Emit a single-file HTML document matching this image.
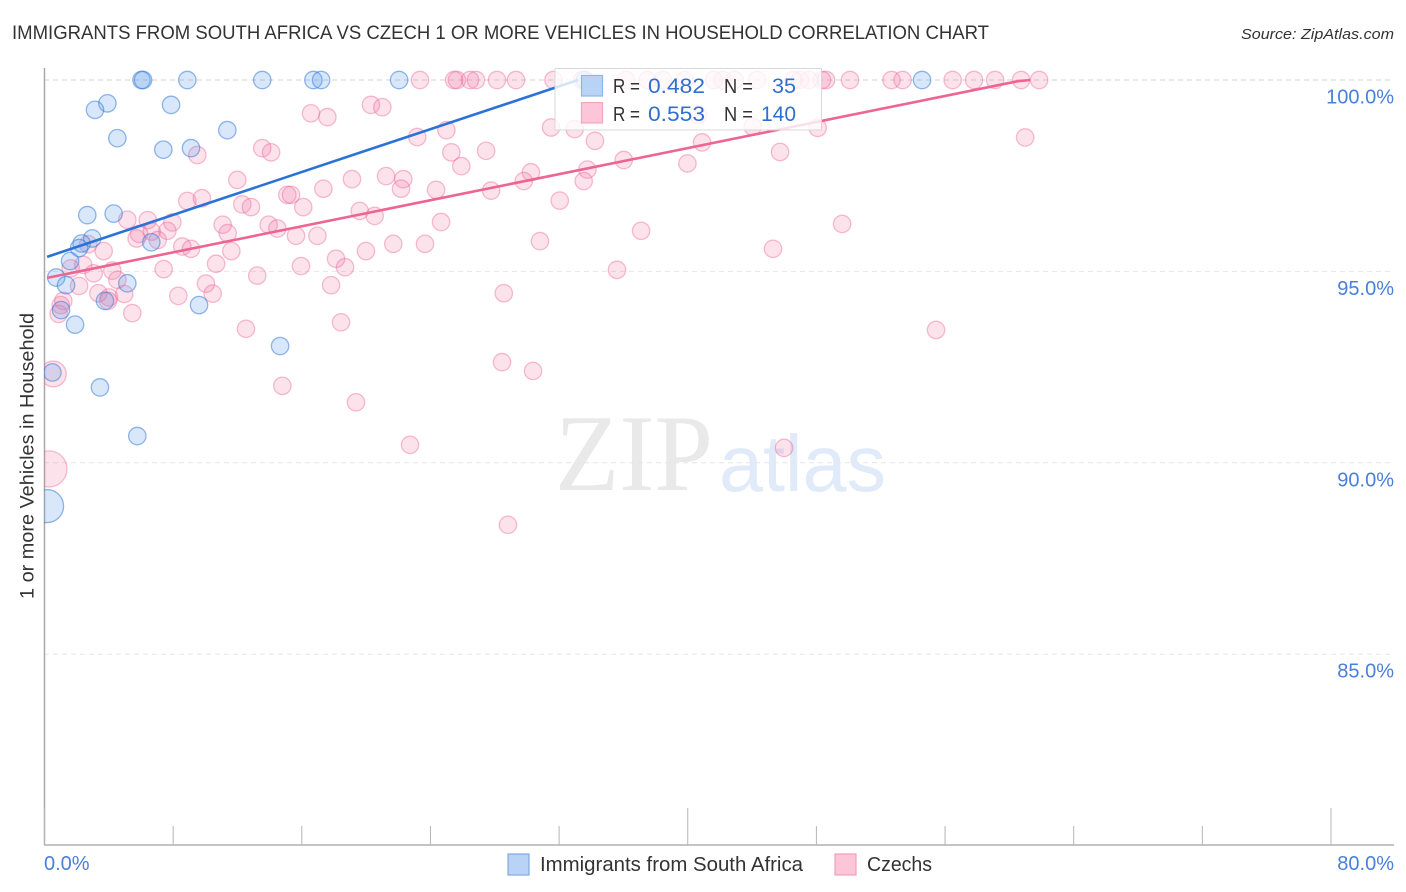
<!DOCTYPE html>
<html lang="en">
<head>
<meta charset="utf-8">
<title>Immigrants from South Africa vs Czech 1 or more Vehicles in Household Correlation Chart</title>
<style>
html,body{margin:0;padding:0;background:#fff;}
svg{display:block;font-family:"Liberation Sans",sans-serif;}
</style>
</head>
<body>
<svg id="chart" width="1406" height="892" viewBox="0 0 1406 892" xmlns="http://www.w3.org/2000/svg">
  <defs><clipPath id="plot-clip"><rect x="44" y="60" width="1350" height="785"/></clipPath></defs>
  <rect width="1406" height="892" fill="#fff"/>
  <text x="12" y="39" font-size="19" fill="#333" textLength="977" lengthAdjust="spacingAndGlyphs">IMMIGRANTS FROM SOUTH AFRICA VS CZECH 1 OR MORE VEHICLES IN HOUSEHOLD CORRELATION CHART</text>
  <text x="1241" y="39" font-size="15" font-style="italic" fill="#333" textLength="153" lengthAdjust="spacingAndGlyphs">Source: ZipAtlas.com</text>
  <text x="555" y="490" font-family="'Liberation Serif',serif" font-size="109" fill="#e9e9e9" textLength="158" lengthAdjust="spacingAndGlyphs">ZIP</text>
  <text x="719" y="491" font-size="80" fill="#e0eaf9" textLength="167" lengthAdjust="spacingAndGlyphs">atlas</text>
  <g id="grid"></g>
  <g id="axes"></g>
  <g id="points" clip-path="url(#plot-clip)"></g>
  <g id="trends"></g>
  <g id="y-labels"></g>
  <g id="x-labels"></g>
  <text transform="translate(33.5,599) rotate(-90)" x="0" y="0" font-size="19" fill="#333" textLength="286" lengthAdjust="spacingAndGlyphs">1 or more Vehicles in Household</text>

  <g>
    <rect x="555" y="68.5" width="266.5" height="61.5" fill="#fff" fill-opacity="0.8" stroke="#d8d8d8" stroke-width="1"/>
    <rect x="581.5" y="75.5" width="21" height="20.5" fill="#b9d3f6" stroke="#8fb5e8" stroke-width="1.2"/>
    <rect x="581.5" y="102.5" width="21" height="20.5" fill="#fcc5d8" stroke="#f5a5c0" stroke-width="1.2"/>
    <text x="613" y="93" font-size="20.5" fill="#333" textLength="27" lengthAdjust="spacingAndGlyphs">R =</text>
    <text x="648" y="93" font-size="21" fill="#2f6fd0" textLength="57" lengthAdjust="spacingAndGlyphs">0.482</text>
    <text x="724" y="93" font-size="20.5" fill="#333" textLength="29" lengthAdjust="spacingAndGlyphs">N =</text>
    <text x="772" y="93" font-size="21" fill="#2f6fd0" textLength="24" lengthAdjust="spacingAndGlyphs">35</text>
    <text x="613" y="121" font-size="20.5" fill="#333" textLength="27" lengthAdjust="spacingAndGlyphs">R =</text>
    <text x="648" y="121" font-size="21" fill="#2f6fd0" textLength="57" lengthAdjust="spacingAndGlyphs">0.553</text>
    <text x="724" y="121" font-size="20.5" fill="#333" textLength="29" lengthAdjust="spacingAndGlyphs">N =</text>
    <text x="761" y="121" font-size="21" fill="#2f6fd0" textLength="35" lengthAdjust="spacingAndGlyphs">140</text>
  </g>

  <g>
    <rect x="508" y="854" width="21" height="21" fill="#b9d3f6" stroke="#7fa9e0" stroke-width="1.2"/>
    <text x="540" y="871" font-size="20" fill="#333" textLength="263" lengthAdjust="spacingAndGlyphs">Immigrants from South Africa</text>
    <rect x="835" y="854" width="21" height="21" fill="#fcc5d8" stroke="#f0a0bc" stroke-width="1.2"/>
    <text x="867" y="871" font-size="20" fill="#333" textLength="65" lengthAdjust="spacingAndGlyphs">Czechs</text>
  </g>
</svg>
<script>
// ---- tick values and labels ----
var xTickValues = [0, 8, 16, 24, 32, 40, 48, 56, 64, 72, 80];
var xMajorTicks = [0, 40, 80];
var xTickLabels = ["0.0%", "80.0%"];
var yGridValues = [100, 95, 90, 85];
var yTickLabels = ["100.0%", "95.0%", "90.0%", "85.0%"];

// ---- Immigrants from South Africa (x %, y %) ----
var blueX = [6.03,6.13,8.88,13.54,16.72,17.20,22.05,54.57,33.61,3.91,3.14,7.87,11.37,4.53,7.39,9.11,2.66,4.30,2.97,2.31,2.15,1.59,6.64,0.73,1.34,5.15,3.76,9.61,1.03,1.90,14.65,0.49,3.45,5.77,0.16];
var blueY = [100,100,100,100,100,100,100,100,100,99.39,99.22,99.35,98.69,98.48,98.18,98.22,96.47,96.51,95.86,95.73,95.61,95.27,95.76,94.84,94.64,94.69,94.23,94.12,93.99,93.61,93.05,92.36,91.97,90.70,88.87];
var blueWeight = [1,1,1,1,1,1,1,1,1,1,1,1,1,1,1,1,1,1,1,1,1,1,1,1,1,1,1,1,1,1,1,1,1,1,3.6];

// ---- Czechs (x %, y %) ----
var pinkX = [23.35,25.47,25.65,26.46,26.83,28.14,29.32,31.65,33.43,36.16,37.50,38.46,39.83,41.63,42.17,42.91,44.31,46.58,46.98,47.54,48.35,48.60,50.09,52.67,53.36,56.47,57.80,59.11,60.73,61.85,
16.57,17.59,9.50,13.54,14.09,11.99,19.12,17.34,15.10,15.33,16.09,12.30,12.84,8.88,9.79,5.15,6.42,7.95,11.08,11.39,13.94,14.48,15.64,16.97,7.64,6.67,5.73,7.04,2.72,3.68,8.57,9.11,11.62,10.67,18.13,18.69,15.95,13.23,7.41,1.63,2.41,4.22,3.06,4.53,2.15,10.04,10.46,8.32,17.82,3.35,4.96,4.01,1.17,3.95,5.46,0.88,1.01,12.53,18.44,14.79,19.37,20.30,21.01,23.18,24.99,25.30,25.92,27.46,31.50,32.97,34.23,40.89,36.02,33.76,33.53,30.25,29.80,27.77,32.04,39.98,24.35,22.31,22.17,21.24,19.60,20.53,24.66,19.99,21.69,23.66,30.81,37.10,35.60,28.56,28.45,30.38,22.73,28.82,45.99,55.44,49.60,45.30,60.98,45.74,48.08,44.04,40.64,5.88,0.55,0.28];
var pinkY = [100,100,100,100,100,100,100,100,100,100,100,100,100,100,100,100,100,100,100,100,100,100,100,100,100,100,100,100,100,100,
99.13,99.03,98.04,98.22,98.11,97.39,97.41,97.16,97.00,97.00,96.68,96.75,96.68,96.84,96.91,96.35,96.34,96.28,96.22,96.00,96.22,96.12,95.93,95.93,96.06,96.04,95.86,95.82,95.71,95.53,95.65,95.59,95.53,95.20,95.33,95.11,95.14,94.89,95.06,95.08,95.17,95.02,94.95,94.78,94.62,94.68,94.42,94.36,94.64,94.43,94.41,94.32,94.23,94.23,93.91,93.89,94.12,93.50,93.67,92.01,91.58,99.35,99.29,98.51,98.69,98.11,97.75,98.15,98.76,98.72,98.41,98.37,97.91,97.66,97.36,97.59,97.36,97.11,96.85,97.82,97.13,97.41,97.16,97.49,96.58,96.45,96.29,95.53,95.72,95.72,95.79,96.06,95.04,94.43,92.63,92.40,90.47,88.38,90.39,93.47,96.24,95.59,98.50,98.12,98.75,98.78,99.09,95.98,92.32,89.84];
var pinkLargeIndex = [138, 139];
var pinkLargeWeight = [2.2, 4.3];

// ---- trend lines ----
var blueTrendX = [0.16, 33.18];
var blueTrendY = [95.38, 100];
var pinkTrendX = [0.16, 60.54, 61.3];
var pinkTrendY = [94.83, 99.97, 100];

var SVGNS = 'http://www.w3.org/2000/svg';
function xScale(v) { return 44.5 + (v / 80) * 1286.5; }
function yScale(v) { return 80 + (100 - v) * 38.28; }
function mk(tag, attrs, parent) {
  var el = document.createElementNS(SVGNS, tag);
  for (var k in attrs) el.setAttribute(k, attrs[k]);
  parent.appendChild(el);
  return el;
}

var gridG = document.getElementById('grid');
yGridValues.forEach(function (v, i) {
  var l = mk('line', {x1: 44, x2: 1394, y1: yScale(v), y2: yScale(v), stroke: i === 0 ? '#d2d2d2' : '#e6e6e6', 'stroke-width': 1, 'stroke-dasharray': '5 4'}, gridG);
  
  
});

var axesG = document.getElementById('axes');
var yAxisLine = mk('line', {x1: 44.5, x2: 44.5, y1: 68, y2: 845, stroke: '#a8a8a8', 'stroke-width': 1.5}, axesG);


var xAxisLine = mk('line', {x1: 44, x2: 1394, y1: 845, y2: 845, stroke: '#b0b0b0', 'stroke-width': 1.5}, axesG);


xTickValues.forEach(function (v) {
  var major = xMajorTicks.indexOf(v) >= 0;
  var t = mk('line', {x1: xScale(v), x2: xScale(v), y1: 845, y2: major ? 808 : 826, stroke: '#b4b4b4', 'stroke-width': 1}, axesG);
  
  
});

var yLab = document.getElementById('y-labels');
yGridValues.forEach(function (v, i) {
  var t = mk('text', {x: 1394, y: yScale(v) + 23.5, 'text-anchor': 'end', 'font-size': 20, fill: '#4a80d8'}, yLab);
  
  
  t.textContent = yTickLabels[i];
});

var xLab = document.getElementById('x-labels');
xTickLabels.forEach(function (s, i) {
  var t = mk('text', {x: i === 0 ? 44 : 1394, y: 870, 'text-anchor': i === 0 ? 'start' : 'end', 'font-size': 20, fill: '#4a80d8'}, xLab);
  
  
  t.textContent = s;
});

var ptsG = document.getElementById('points');
var BASE_R = 8.7;
pinkX.forEach(function (v, i) {
  var li = pinkLargeIndex.indexOf(i);
  var w = li >= 0 ? pinkLargeWeight[li] : 1;
  var c = mk('circle', {cx: xScale(v), cy: yScale(pinkY[i]), r: BASE_R * Math.sqrt(w), fill: 'rgba(240,110,155,0.2)', stroke: 'rgba(235,100,150,0.42)', 'stroke-width': 1.3}, ptsG);
  
  
});
blueX.forEach(function (v, i) {
  var c = mk('circle', {cx: xScale(v), cy: yScale(blueY[i]), r: BASE_R * Math.sqrt(blueWeight[i]), fill: 'rgba(90,155,235,0.24)', stroke: 'rgba(50,120,215,0.52)', 'stroke-width': 1.3}, ptsG);
  
  
});

var trG = document.getElementById('trends');
function linePts(xs, ys) {
  return xs.map(function (v, i) { return xScale(v) + ',' + yScale(ys[i]); }).join(' ');
}
var tb = mk('polyline', {points: linePts(blueTrendX, blueTrendY), fill: 'none', stroke: '#2a72d8', 'stroke-width': 2.6}, trG);


var tp = mk('polyline', {points: linePts(pinkTrendX, pinkTrendY), fill: 'none', stroke: '#ec6593', 'stroke-width': 2.6}, trG);


</script>
</body>
</html>
